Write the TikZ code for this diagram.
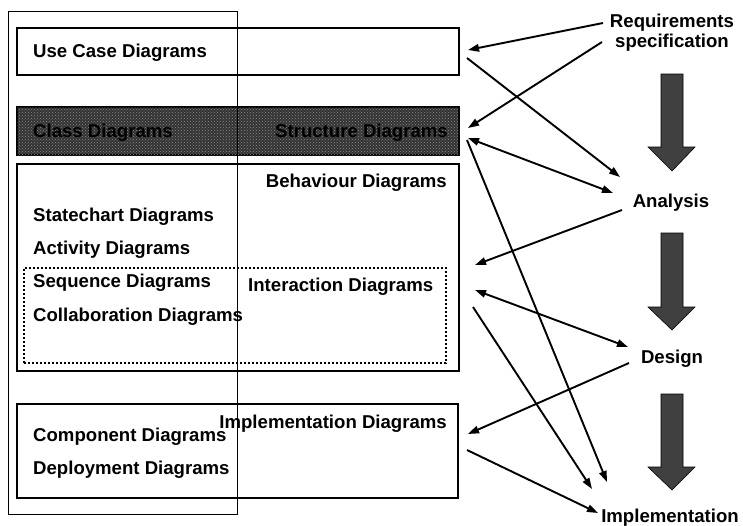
\documentclass[tikz,border=0pt]{standalone}
\usepackage{fontspec}
\setmainfont{Liberation Sans}
\usetikzlibrary{arrows.meta,patterns}

\begin{document}
\begin{tikzpicture}[x=1pt,y=-1pt]
    \useasboundingbox (0,0) rectangle (743,525);

    % Definir estilos
    \tikzset{
      caja/.style={draw, line width=2.3pt, inner sep=0, anchor=north west},
      texto/.style={font=\fontsize{18.6}{20}\selectfont\bfseries, inner sep=0},
      flecha/.style={line width=1.9pt, -{Triangle[length=11pt,width=7.5pt]}},
      doble/.style={line width=1.9pt, {Triangle[length=11pt,width=7.5pt]}-{Triangle[length=11pt,width=7.5pt]}},
      fase/.style={fill=black!75, draw=black, line width=0.6pt}
    }

    % Cajas de diagramas
    \node[caja, minimum width=442pt, minimum height=47pt] (usecase) at (16,27) {};
    \node[caja, minimum width=442pt, minimum height=48pt, fill=black!80,
      postaction={pattern=crosshatch dots, pattern color=black!45}] (clase) at (16,106) {};
    \node[caja, minimum width=442pt, minimum height=207pt] (comport) at (16,163) {};
    \node[draw, line width=2.2pt, dash pattern=on 2.2pt off 1.8pt, inner sep=0,
      minimum width=422pt, minimum height=95pt, anchor=north west] (interac) at (23,267) {};
    \node[caja, minimum width=441pt, minimum height=94pt] (implem) at (16,403) {};

    % Textos de las cajas
    \node[texto, anchor=base west] (tuc) at (33,57) {Use Case Diagrams};
    \node[texto, anchor=base west] (tcl) at (33,137) {Class Diagrams};
    \node[texto, anchor=base east] (tst) at (448,137) {Structure Diagrams};
    \node[texto, anchor=base east] (tbe) at (447,187) {Behaviour Diagrams};
    \node[texto, anchor=base west] (tsc) at (33,221) {Statechart Diagrams};
    \node[texto, anchor=base west] (tac) at (33,254) {Activity Diagrams};
    \node[texto, anchor=base west] (tse) at (33,287) {Sequence Diagrams};
    \node[texto, anchor=base west] (tin) at (248,291) {Interaction Diagrams};
    \node[texto, anchor=base west] (tco) at (33,321) {Collaboration Diagrams};
    \node[texto, anchor=base east] (tim) at (447,428) {Implementation Diagrams};
    \node[texto, anchor=base west] (tcp) at (33,441) {Component Diagrams};
    \node[texto, anchor=base west] (tde) at (33,474) {Deployment Diagrams};

    % Fases del proceso
    \node[texto, anchor=base, align=center] (req) at (672,47) {Requirements\\specification};
    \node[texto, anchor=base] (ana) at (671,207) {Analysis};
    \node[texto, anchor=base] (dis) at (672,363) {Design};
    \node[texto, anchor=base] (imp) at (670,522) {Implementation};

    \foreach \a/\b/\c in {74/147/171, 233/307/330, 394/467/490}
      \draw[fase] (661,\a) -- (683,\a) -- (683,\b) -- (695,\b) -- (672,\c)
        -- (648,\b) -- (661,\b) -- cycle;

    % Extremos de las flechas
    \coordinate (rq1) at (603,23);  \coordinate (uc1) at (468,50);
    \coordinate (rq2) at (602,42);  \coordinate (cl1) at (468,128);
    \coordinate (uc2) at (467,58);  \coordinate (an1) at (620,177);
    \coordinate (cl2) at (468,138); \coordinate (an2) at (613,193);
    \coordinate (an3) at (622,210); \coordinate (in1) at (475,265);
    \coordinate (cl3) at (467,140); \coordinate (im1) at (607,482);
    \coordinate (in2) at (475,290); \coordinate (de1) at (628,347);
    \coordinate (in3) at (473,307); \coordinate (im2) at (592,489);
    \coordinate (de2) at (629,363); \coordinate (co1) at (468,434);
    \coordinate (co2) at (467,450); \coordinate (im3) at (598,513);

    % Flechas
    \draw[flecha] (rq1) -- (uc1);
    \draw[flecha] (rq2) -- (cl1);
    \draw[flecha] (uc2) -- (an1);
    \draw[doble] (cl2) -- (an2);
    \draw[flecha] (an3) -- (in1);
    \draw[flecha] (cl3) -- (im1);
    \draw[doble] (in2) -- (de1);
    \draw[flecha] (in3) -- (im2);
    \draw[flecha] (de2) -- (co1);
    \draw[flecha] (co2) -- (im3);

    % Marco vertical
    \node[draw, line width=1pt, inner sep=0, minimum width=229pt,
      minimum height=503pt, anchor=north west] (marco) at (8,11) {};
  \end{tikzpicture}
\end{document}
